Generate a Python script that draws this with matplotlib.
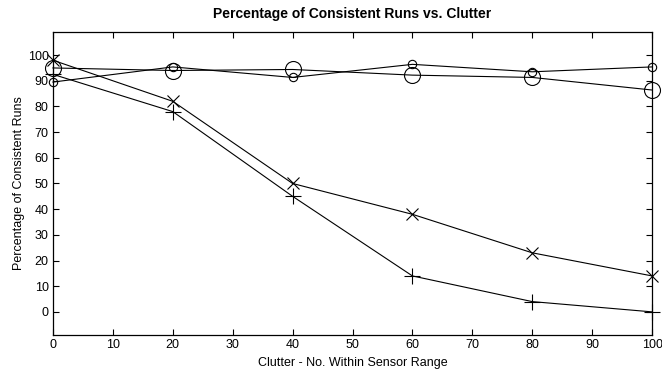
import numpy as np
import matplotlib.pyplot as plt

plt.rcParams['font.family'] = ['Liberation Sans', 'DejaVu Sans']

clutter = [0, 20, 40, 60, 80, 100]
small_circle = [89.5, 95.4, 91.3, 96.4, 93.5, 95.4]
big_circle = [95, 94, 94.4, 92.2, 91.3, 86.4]
cross_x = [98, 82, 50, 38, 23, 14]
cross_plus = [92.5, 78, 45, 14, 4, 0]

fig = plt.figure(figsize=(6.62, 3.72), dpi=100)
ax = fig.add_axes([0.080, 0.0995, 0.905, 0.8145])

ax.plot(clutter, small_circle, color="black", lw=0.8, marker="o", ms=6,
        mfc="none", mew=0.8, clip_on=False)
ax.plot(clutter, big_circle, color="black", lw=0.8, marker="o", ms=11.5,
        mfc="none", mew=0.8, clip_on=False)
ax.plot(clutter, cross_x, color="black", lw=0.8, marker="x", ms=9, mew=0.8,
        clip_on=False)
ax.plot(clutter, cross_plus, color="black", lw=0.8, marker="+", ms=11,
        mew=0.8, clip_on=False)

ax.set_xlim(0, 100)
ax.set_ylim(-9, 109)
ax.set_xticks(np.arange(0, 101, 10))
ax.set_yticks(np.arange(0, 101, 10))
ax.tick_params(direction="in", top=True, right=True, length=4, width=0.8,
               labelsize=9, pad=3)
for s in ax.spines.values():
    s.set_linewidth(0.9)

ax.set_xlabel("Clutter - No. Within Sensor Range", fontsize=9, labelpad=4)
ax.set_ylabel("Percentage of Consistent Runs", fontsize=9, labelpad=2)
ax.set_title("Percentage of Consistent Runs vs. Clutter", fontsize=10,
             fontweight="bold", pad=10)

fig.savefig("out.png", dpi=100)
